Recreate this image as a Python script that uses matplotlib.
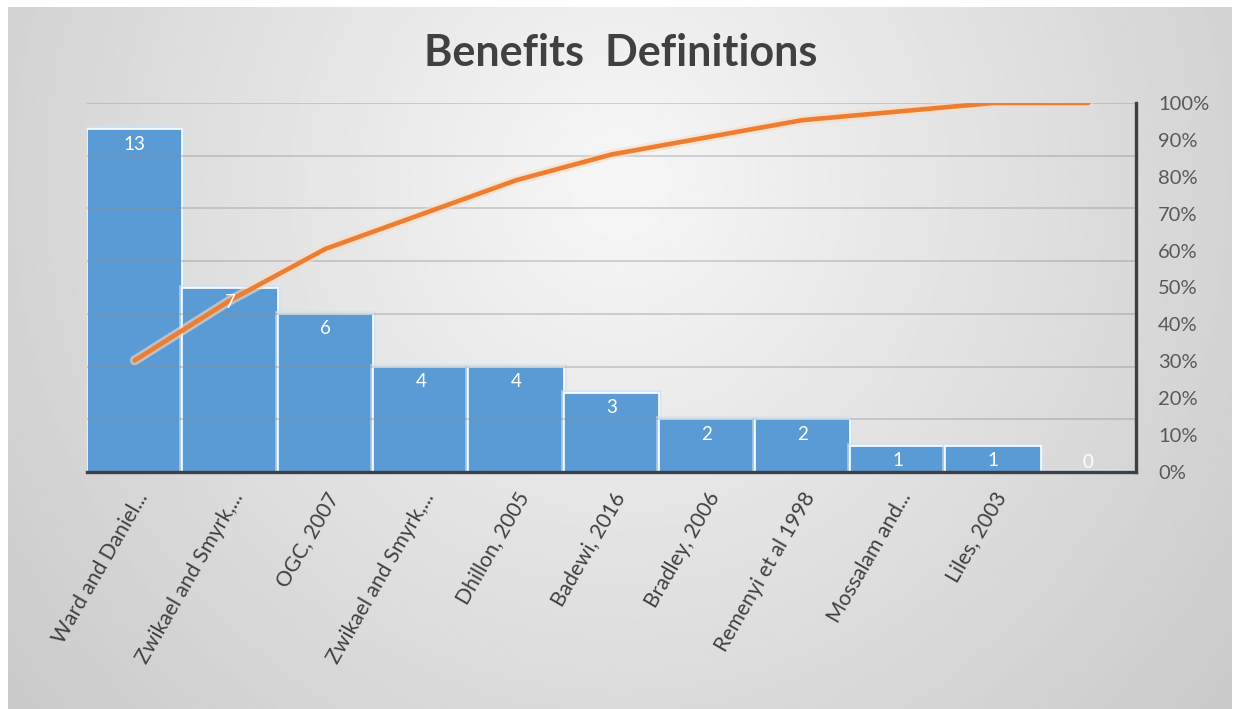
import numpy as np
import matplotlib.pyplot as plt
import matplotlib.patheffects as pe
from matplotlib.ticker import PercentFormatter

plt.rcParams['font.family'] = ['Lato', 'DejaVu Sans']

categories = ['Ward and Daniel...', 'Zwikael and Smyrk,...', 'OGC, 2007',
              'Zwikael and Smyrk,...', 'Dhillon, 2005', 'Badewi, 2016',
              'Bradley, 2006', 'Remenyi et al 1998', 'Mossalam and...',
              'Liles, 2003', '']
counts = [13, 7, 6, 4, 4, 3, 2, 2, 1, 1, 0]
pct_ticks = [0, 0.1, 0.2, 0.3, 0.4, 0.5, 0.6, 0.7, 0.8, 0.9, 1.0]

cum_share = np.cumsum(counts) / np.sum(counts)
x = np.arange(len(categories))

W, H = 1241, 709
fig = plt.figure(figsize=(W / 100, H / 100), dpi=100, facecolor='white')

# grey radial background like the Excel chart area
bg = fig.add_axes([8 / W, 0, 1224 / W, 702 / H], zorder=-10)
gx, gy = np.meshgrid(np.linspace(0, 1, 400), np.linspace(0, 1, 240))
r = np.sqrt(((gx - 0.5) / 0.6) ** 2 + ((gy - 0.25) / 1.1) ** 2)
shade = np.clip(247 - 42 * r, 198, 247)
bg.imshow(shade, cmap='gray', vmin=0, vmax=255, aspect='auto',
          extent=[0, 1, 1, 0])
bg.axis('off')

ax = fig.add_axes([87 / W, 1 - 472 / H, (1136 - 87) / W, (472 - 103) / H])
ax.patch.set_alpha(0)

bars = ax.bar(x, counts, width=1.0, color='#5B9BD5', edgecolor='white',
              linewidth=1.2, zorder=1)
for b in bars:
    b.set_path_effects([pe.Stroke(linewidth=4, foreground='#cde2f5', alpha=0.7),
                        pe.Normal()])

ax.set_xlim(-0.5, len(categories) - 0.5)
ax.set_ylim(0, 14)
ax.set_yticks(np.arange(0, 15, 2))
ax.yaxis.grid(True, color='#8c8c8c', alpha=0.45, linewidth=1.1)
ax.set_xticks(x)
ax.set_xticklabels(categories, rotation=60, ha='right', va='top',
                   rotation_mode='anchor', fontsize=15.2, color='#404040')
ax.tick_params(axis='x', length=0, pad=12)
for s in ['left', 'top', 'right']:
    ax.spines[s].set_visible(False)
ax.spines['bottom'].set_color('#404040')
ax.spines['bottom'].set_linewidth(2.4)

ax2 = ax.twinx()
ax2.patch.set_alpha(0)
ax.tick_params(axis='y', left=False, right=False, labelleft=False)
ax2.plot(x, cum_share, color='#ED7D31', linewidth=3.3, solid_capstyle='round',
         solid_joinstyle='round',
         path_effects=[pe.Stroke(linewidth=7, foreground='#f9dcc4', alpha=0.6),
                       pe.Normal()])

# value labels inside the bar tops, drawn above the line
for xi, v in zip(x, counts):
    off = -15 if v > 0 else 10
    ax2.annotate(str(v), (xi, v), xycoords=ax.transData, xytext=(0, off),
                 textcoords='offset pixels', ha='center', va='center',
                 color='white', fontsize=13.5, zorder=5)

ax2.set_ylim(0, 1.0)
ax2.set_yticks(pct_ticks)
ax2.yaxis.set_major_formatter(PercentFormatter(1.0, decimals=0))
ax2.tick_params(axis='y', left=False, length=0, pad=16, labelsize=14.5,
                labelcolor='#595959')
for s in ['left', 'top', 'bottom']:
    ax2.spines[s].set_visible(False)
ax2.spines['right'].set_color('#404040')
ax2.spines['right'].set_linewidth(2.4)

fig.text(0.5, 1 - 66 / H, 'Benefits  Definitions', ha='center', va='baseline',
         fontsize=31, fontweight='bold', color='#404040')

fig.savefig('out.png', dpi=100)
